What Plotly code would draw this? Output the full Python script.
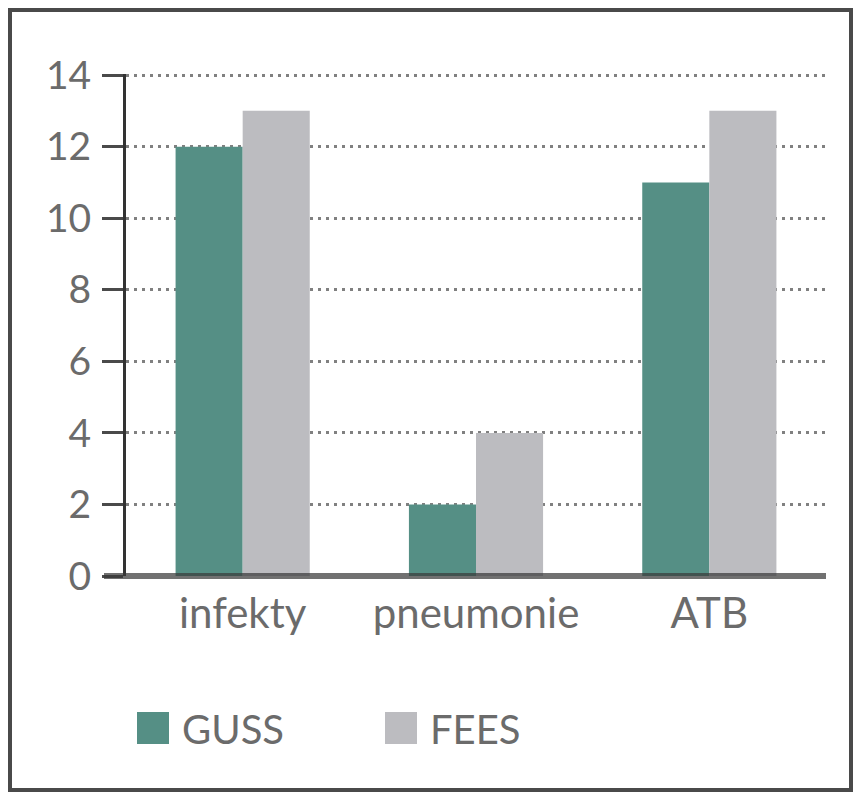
import plotly.graph_objects as go

# data
categories = ["infekty", "pneumonie", "ATB"]
guss = [12, 2, 11]
fees = [13, 4, 13]
series_names = ["GUSS", "FEES"]
y_ticks = [0, 2, 4, 6, 8, 10, 12, 14]

teal = "#558f85"
grey = "#bcbcc0"
txt = "#6b6b6b"
font_name = "Lato"

fig = go.Figure()
fig.add_trace(go.Bar(x=categories, y=guss, name=series_names[0], marker=dict(color=teal, line=dict(width=0)), showlegend=False))
fig.add_trace(go.Bar(x=categories, y=fees, name=series_names[1], marker=dict(color=grey, line=dict(width=0)), showlegend=False))

# the page puts the figure 8px in from the corner, so sizes are in page pixels minus 8
OFF = 8
W, H = 864 - OFF, 800 - OFF
L, R, T, B = 126 - OFF, 826 - OFF, 74 - OFF, 576 - OFF
def px(x):
    return (x - OFF - L) / (R - L)
def py(y):
    return (B - (y - OFF)) / (B - T)

shapes = []
# zero line over the bar bottoms (paper ref so it isn't clipped at the plot edge)
shapes.append(dict(type="line", xref="paper", yref="paper", x0=px(104), x1=px(826), y0=0, y1=0,
                   line=dict(color="rgba(58,58,58,0.72)", width=6), layer="above"))
# outer frame (as close to the page corner as the body margin allows)
shapes.append(dict(type="rect", xref="paper", yref="paper", x0=px(10), x1=px(851), y0=py(10), y1=py(790),
                   line=dict(color="#4a4a4a", width=4)))

# legend drawn by hand so the swatches can be big
annotations = []
legend_items = [(series_names[0], teal, 137, 180), (series_names[1], grey, 385, 428)]
for name, col, sx, tx in legend_items:
    shapes.append(dict(type="rect", xref="paper", yref="paper", x0=px(sx), x1=px(sx + 32),
                       y0=py(712), y1=py(744), fillcolor=col, line=dict(width=0)))
    annotations.append(dict(text=name, xref="paper", yref="paper", x=px(tx), y=py(729),
                            xanchor="left", yanchor="middle", showarrow=False,
                            font=dict(family=font_name, size=40, color=txt)))

fig.update_layout(
    width=W, height=H,
    margin=dict(l=L, r=W - R, t=T, b=H - B),
    paper_bgcolor="white", plot_bgcolor="white",
    barmode="group", bargap=0.425, bargroupgap=0,
    font=dict(family=font_name, size=40, color=txt),
    shapes=shapes, annotations=annotations,
    showlegend=False,
)
fig.update_xaxes(showgrid=False, zeroline=False, showline=False, ticks="",
                 ticklabelstandoff=9, tickfont=dict(size=42, color=txt))
fig.update_yaxes(range=[0, 14.03], tickvals=y_ticks, showgrid=True, gridcolor="#808080", gridwidth=3,
                 griddash="3px,5px", zeroline=False, showline=True, linecolor="#333333", linewidth=3,
                 ticks="outside", ticklen=21, tickwidth=3, tickcolor="#4a4a4a",
                 ticklabelstandoff=3, tickfont=dict(size=39, color=txt))

fig.write_html("out.html")
